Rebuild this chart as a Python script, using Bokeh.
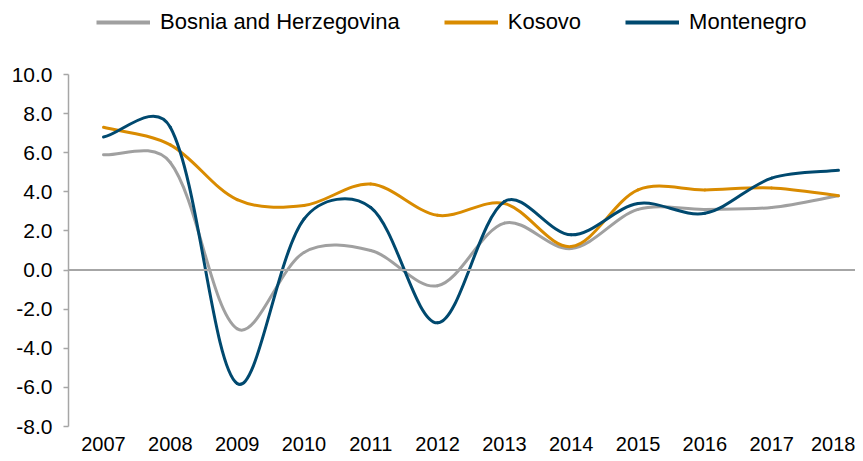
import math
from bokeh.plotting import figure
from bokeh.models import Range1d, FixedTicker, Span, Legend, LegendItem, NumeralTickFormatter, ColumnDataSource
from bokeh.embed import file_html
from bokeh.resources import INLINE

years = [2007, 2008, 2009, 2010, 2011, 2012, 2013, 2014, 2015, 2016, 2017, 2018]
year_labels = [str(y) for y in years]
bosnia = [5.9, 5.5, -3.0, 0.9, 1.0, -0.8, 2.4, 1.1, 3.1, 3.1, 3.2, 3.8]
kosovo = [7.3, 6.4, 3.6, 3.3, 4.4, 2.8, 3.4, 1.2, 4.1, 4.1, 4.2, 3.8]
montenegro = [6.8, 7.3, -5.8, 2.6, 3.2, -2.7, 3.5, 1.8, 3.4, 2.9, 4.7, 5.1]
series_names = ["Bosnia and Herzegovina", "Kosovo", "Montenegro"]
series_colors = ["#A0A0A0", "#D98B00", "#00496F"]
y_ticks = [-8, -6, -4, -2, 0, 2, 4, 6, 8, 10]

W, H = 855, 453
BL, BR, BT, BB = 68, 0, 0, 27
FW, FH = W - BL - BR, H - BT - BB
X0, X1 = 2006.476, 2018.255
Y0, YTOP = y_ticks[0], y_ticks[-1]
AXIS_TOP_PX = 74           # pixel row of the top tick
SY = (FH - AXIS_TOP_PX) / (YTOP - Y0)
Y1 = Y0 + FH / SY
SX = FW / (X1 - X0)

p = figure(width=W, height=H, output_backend="svg", toolbar_location=None,
           x_range=Range1d(X0, X1), y_range=Range1d(Y0, Y1),
           min_border_left=BL, min_border_right=BR, min_border_top=BT, min_border_bottom=BB)
p.outline_line_color = None
p.xgrid.visible = False
p.ygrid.visible = False
p.background_fill_color = "white"
p.border_fill_color = "white"

FONT = "Liberation Sans"

p.xaxis.ticker = FixedTicker(ticks=years)
p.xaxis.major_label_overrides = {y: l for y, l in zip(years, year_labels)}
p.xaxis.axis_line_color = None
p.xaxis.major_tick_line_color = None
p.xaxis.minor_tick_line_color = None
p.xaxis.major_label_text_font = FONT
p.xaxis.major_label_text_font_size = "20px"
p.xaxis.major_label_text_color = "black"
p.xaxis.major_label_standoff = 4

p.yaxis.ticker = FixedTicker(ticks=y_ticks)
p.yaxis.bounds = (Y0, YTOP)
p.yaxis.formatter = NumeralTickFormatter(format="0.0")
p.yaxis.axis_line_color = "#A6A6A6"
p.yaxis.axis_line_width = 1.5
p.yaxis.major_tick_line_color = "#A6A6A6"
p.yaxis.major_tick_line_width = 1.5
p.yaxis.major_tick_out = 5
p.yaxis.major_tick_in = 0
p.yaxis.minor_tick_line_color = None
p.yaxis.major_label_text_font = FONT
p.yaxis.major_label_text_font_size = "21px"
p.yaxis.major_label_text_color = "black"
p.yaxis.major_label_standoff = 11

p.add_layout(Span(location=0, dimension="width", line_color="#A6A6A6", line_width=2))


def smooth_segments(xs, ys):
    n = len(xs)
    px = [x * SX for x in xs]
    py = [y * SY for y in ys]

    def d(i, j):
        return math.hypot(px[j] - px[i], py[j] - py[i])

    def w(da, db):
        wd = da / (da + db) if da + db > 0 else 0.5
        return (0.5 + wd) / 2 / 3

    out = {k: [] for k in ("x0", "y0", "x1", "y1", "cx0", "cy0", "cx1", "cy1")}
    for i in range(n - 1):
        a = i - 1 if i > 0 else i
        b = i + 2 if i + 2 < n else i + 1
        d01, d12, d23 = d(a, i), d(i, i + 1), d(i + 1, b)
        f1 = w(d12, d01)
        f2 = w(d12, d23)
        out["x0"].append(xs[i]); out["y0"].append(ys[i])
        out["x1"].append(xs[i + 1]); out["y1"].append(ys[i + 1])
        out["cx0"].append(xs[i] + (xs[i + 1] - xs[a]) * f1)
        out["cy0"].append(ys[i] + (ys[i + 1] - ys[a]) * f1)
        out["cx1"].append(xs[i + 1] - (xs[b] - xs[i]) * f2)
        out["cy1"].append(ys[i + 1] - (ys[b] - ys[i]) * f2)
    return out


items = []
for name, vals, col in zip(series_names, [bosnia, kosovo, montenegro], series_colors):
    seg = smooth_segments(years, vals)
    p.bezier(line_color=col, line_width=3, line_cap="round", **seg)
    dummy = p.line(x=[float("nan")], y=[float("nan")], line_color=col, line_width=4)
    items.append(LegendItem(label=name, renderers=[dummy]))

legend = Legend(items=items, orientation="horizontal", location=(28, FH - 35),
                label_text_font=FONT, label_text_font_size="22px", label_text_color="black",
                glyph_width=54, glyph_height=22, label_standoff=10, spacing=44,
                padding=0, margin=0, border_line_color=None, background_fill_alpha=0)
p.add_layout(legend, "center")

open("out.html", "w").write(file_html(p, INLINE))
